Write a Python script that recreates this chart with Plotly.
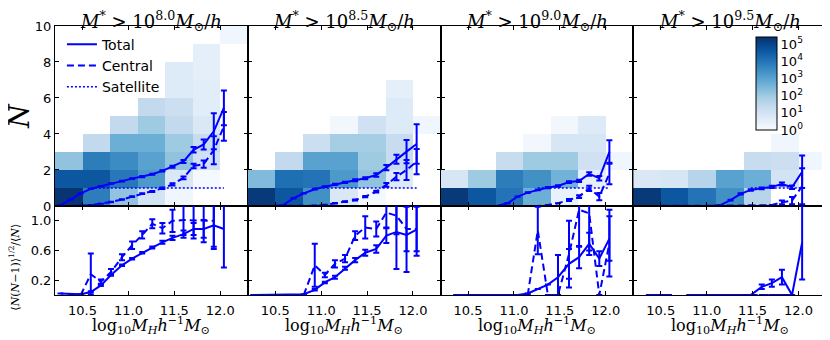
import plotly.graph_objects as go
from plotly.subplots import make_subplots

# stellar mass thresholds (log10 M*), one column each
thresholds = ['8.0', '8.5', '9.0', '9.5']

# halo mass bin centres for the HOD curves
log_mh = [10.26, 10.37, 10.48, 10.59, 10.70, 10.81, 10.93, 11.04, 11.15,
          11.26, 11.37, 11.48, 11.60, 11.71, 11.82, 11.93, 12.04]

# 2D histogram bins (halo mass x galaxy count)
hist_x = [10.35, 10.65, 10.95, 11.25, 11.55, 11.85, 12.15]
hist_y = [0.5, 1.5, 2.5, 3.5, 4.5, 5.5, 6.5, 7.5, 8.5, 9.5]

# log10 of number of haloes per cell, rows N=0..9
hist_1 = [
    [5.3, 3.8, 2.2, 1.0, 0.2, None, None],
    [4.6, 4.6, 3.9, 3.2, 0.8, 0.1, None],
    [2.2, 3.8, 3.5, 3.0, 2.2, 1.1, None],
    [None, 1.4, 2.7, 2.7, 2.0, 1.3, None],
    [None, None, 1.4, 2.0, 1.4, 0.8, None],
    [None, None, None, 1.4, 1.2, 0.6, None],
    [None, None, None, None, 0.7, 0.6, None],
    [None, None, None, None, 0.7, 0.5, None],
    [None, None, None, None, None, 0.5, None],
    [None, None, None, None, None, None, 0.2],
]
hist_2 = [
    [5.2, 4.6, 3.4, 0.8, 0.1, None, None],
    [2.4, 4.1, 4.0, 3.2, 2.2, 0.7, None],
    [None, 1.4, 3.0, 3.0, 2.0, 1.3, None],
    [None, None, 1.2, 1.9, 1.9, 1.3, None],
    [None, None, None, 0.15, 1.1, 0.7, 0.2],
    [None, None, None, None, None, 0.7, None],
    [None, None, None, None, None, 0.5, None],
    [None] * 7, [None] * 7, [None] * 7,
]
hist_3 = [
    [5.2, 4.6, 4.0, 2.7, 0.4, None, None],
    [0.9, 2.0, 3.8, 3.4, 2.6, 0.5, None],
    [None, None, 1.3, 2.0, 2.0, 1.1, 0.2],
    [None, None, None, 0.15, 0.9, 0.9, None],
    [None, None, None, None, 0.15, 0.7, None],
    [None] * 7, [None] * 7, [None] * 7, [None] * 7, [None] * 7,
]
hist_4 = [
    [5.2, 4.6, 4.0, 3.4, 1.6, None, None],
    [0.8, 0.9, 1.6, 3.0, 2.7, 1.0, None],
    [None, None, None, None, 1.3, 1.2, 0.2],
    [None, None, None, None, None, 0.2, None],
    [None] * 7, [None] * 7, [None] * 7, [None] * 7, [None] * 7, [None] * 7,
]

# mean occupation <N>
n_tot_1 = [0.05, 0.35, 0.70, 0.95, 1.10, 1.25, 1.38, 1.52, 1.63, 1.76, 1.95, 2.18, 2.47, 3.12, 3.42, 4.15, 5.45]
e_tot_1 = [0.01, 0.01, 0.01, 0.01, 0.01, 0.01, 0.02, 0.02, 0.03, 0.03, 0.04, 0.06, 0.08, 0.15, 0.28, 1.0, 0.97]
n_cen_1 = [0.0, 0.0, 0.02, 0.05, 0.12, 0.22, 0.36, 0.52, 0.68, 0.80, 0.98, 1.20, 1.56, 2.22, 2.33, 3.10, 4.42]
e_cen_1 = [0, 0, 0, 0, 0, 0.01, 0.01, 0.02, 0.02, 0.03, 0.04, 0.06, 0.08, 0.12, 0.2, 0.78, 0.8]
n_sat_1 = [None, None, None, 1.0, 1.0, 1.0, 1.0, 1.0, 1.0, 1.0, 1.0, 1.0, 1.0, 1.0, 1.0, 1.0, 1.0]

n_tot_2 = [0.0, 0.0, 0.0, 0.06, 0.43, 0.70, 0.93, 1.07, 1.20, 1.31, 1.43, 1.54, 1.72, 2.13, 2.59, 3.02, 3.44]
e_tot_2 = [0, 0, 0, 0, 0.01, 0.01, 0.02, 0.02, 0.03, 0.04, 0.05, 0.06, 0.1, 0.15, 0.25, 0.65, 1.1]
n_cen_2 = [0.0, 0.0, 0.0, 0.0, 0.0, 0.0, 0.02, 0.06, 0.15, 0.24, 0.33, 0.52, 0.80, 1.17, 1.63, 2.00, 2.46]
e_cen_2 = [0, 0, 0, 0, 0, 0, 0, 0.01, 0.01, 0.02, 0.03, 0.04, 0.05, 0.1, 0.2, 0.56, 0.7]
n_sat_2 = [None, None, None, None, None, None, 1.0, 1.0, 1.0, 1.0, 1.0, 1.0, 1.0, 1.0, 1.0, 1.0, 1.0]

n_tot_3 = [0.0, 0.0, 0.0, 0.0, 0.0, 0.0, 0.15, 0.52, 0.74, 0.89, 1.02, 1.11, 1.33, 1.39, 1.78, 1.54, 3.0]
e_tot_3 = [0, 0, 0, 0, 0, 0, 0.01, 0.01, 0.02, 0.02, 0.03, 0.04, 0.05, 0.06, 0.1, 0.12, 0.65]
n_cen_3 = [0.0, 0.0, 0.0, 0.0, 0.0, 0.0, 0.0, 0.0, 0.0, 0.0, 0.05, 0.15, 0.33, 0.52, 0.98, 0.52, 1.8]
e_cen_3 = [0, 0, 0, 0, 0, 0, 0, 0, 0, 0, 0, 0, 0.05, 0.08, 0.15, 0.2, 0.6]
n_sat_3 = [None, None, None, None, None, None, None, None, None, 1.0, 1.0, 1.0, 1.0, 1.0, 1.0, 1.0, 1.0]

n_tot_4 = [0.0, 0.0, 0.0, 0.0, 0.0, 0.0, 0.0, 0.0, 0.05, 0.33, 0.67, 0.89, 0.98, 1.06, 1.22, 1.04, 1.9]
e_tot_4 = [0, 0, 0, 0, 0, 0, 0, 0, 0.01, 0.02, 0.03, 0.04, 0.05, 0.06, 0.08, 0.1, 0.9]
n_cen_4 = [0.0, 0.0, 0.0, 0.0, 0.0, 0.0, 0.0, 0.0, 0.0, 0.0, 0.0, 0.02, 0.03, 0.05, 0.2, 0.3, 1.1]
e_cen_4 = [0, 0, 0, 0, 0, 0, 0, 0, 0, 0, 0, 0, 0, 0, 0.1, 0.2, 1.0]
n_sat_4 = [None, None, None, None, None, None, None, None, None, None, None, 1.0, 1.0, 1.0, 1.0, 1.0, 1.0]

# <N(N-1)>^(1/2) / <N>
r_tot_1 = [0.02, 0.01, 0.01, 0.04, 0.13, 0.27, 0.40, 0.49, 0.57, 0.64, 0.71, 0.77, 0.82, 0.89, 0.89, 0.94, 0.89]
re_tot_1 = [0, 0, 0, 0.01, 0.01, 0.01, 0.01, 0.01, 0.01, 0.015, 0.02, 0.03, 0.05, 0.08, 0.12, 0.32, 0.52]
r_cen_1 = [None, None, 0.0, 0.28, 0.18, 0.31, 0.51, 0.67, 0.81, 0.96, 0.90, 1.00, 1.01, 1.01, 1.01, 1.00, None]
re_cen_1 = [0, 0, 0, 0.28, 0.03, 0.04, 0.04, 0.05, 0.05, 0.06, 0.07, 0.15, 0.2, 0.25, 0.3, 0.35, 0]

r_tot_2 = [0.0, 0.0, 0.0, 0.0, 0.0, 0.01, 0.07, 0.17, 0.24, 0.36, 0.47, 0.57, 0.62, 0.80, 0.85, 0.81, 0.88]
re_tot_2 = [0, 0, 0, 0, 0, 0, 0.01, 0.01, 0.02, 0.02, 0.03, 0.04, 0.05, 0.1, 0.5, 0.5, 0.35]
r_cen_2 = [None, None, None, None, None, 0.0, 0.40, 0.27, 0.42, 0.49, 0.80, 0.91, 0.89, 1.11, 1.07, 0.89, 0.89]
re_cen_2 = [0, 0, 0, 0, 0, 0, 0.29, 0.03, 0.05, 0.05, 0.06, 0.15, 0.1, 0.2, 0.25, 0.3, 0.3]

r_tot_3 = [None, 0.0, 0.0, 0.0, 0.0, 0.0, 0.0, 0.0, 0.02, 0.08, 0.14, 0.24, 0.42, 0.51, 0.69, 0.49, 0.76]
re_tot_3 = [0, 0, 0, 0, 0, 0, 0, 0, 0, 0, 0, 0.3, 0.2, 0.15, 0.15, 0.1, 0.3]
r_cen_3 = [None, None, None, None, None, None, None, None, 0.0, 0.87, 0.0, 0.0, 0.55, 1.15, 1.1, 0.0, 0.7]
re_cen_3 = [0, 0, 0, 0, 0, 0, 0, 0, 0, 0.32, 0, 0, 0.45, 0.5, 0.5, 0, 0.45]

r_tot_4 = [None, 0.0, 0.0, 0.0, None, 0.0, 0.0, 0.0, 0.0, 0.0, 0.0, 0.0, 0.11, 0.16, 0.24, 0.0, 0.71]
re_tot_4 = [0, 0, 0, 0, 0, 0, 0, 0, 0, 0, 0, 0, 0.03, 0.05, 0.1, 0, 0.5]
r_cen_4 = [None, None, None, None, None, None, None, None, None, None, None, 0.0, 0.0, 0.0, 0.0, 0.0, None]
re_cen_4 = [0] * 17

hists = [hist_1, hist_2, hist_3, hist_4]
tops = [(n_tot_1, e_tot_1, n_cen_1, e_cen_1, n_sat_1),
        (n_tot_2, e_tot_2, n_cen_2, e_cen_2, n_sat_2),
        (n_tot_3, e_tot_3, n_cen_3, e_cen_3, n_sat_3),
        (n_tot_4, e_tot_4, n_cen_4, e_cen_4, n_sat_4)]
bottoms = [(r_tot_1, re_tot_1, r_cen_1, re_cen_1),
           (r_tot_2, re_tot_2, r_cen_2, re_cen_2),
           (r_tot_3, re_tot_3, r_cen_3, re_cen_3),
           (r_tot_4, re_tot_4, r_cen_4, re_cen_4)]

blues = ['#f7fbff', '#deebf7', '#c6dbef', '#9ecae1', '#6baed6',
         '#4292c6', '#2171b5', '#08519c', '#08306b']
cscale = [[i / 8, c] for i, c in enumerate(blues)]
BLUE = '#0000ff'
SERIF = 'DejaVu Serif'
SANS = 'DejaVu Sans'

fig = make_subplots(rows=2, cols=4, horizontal_spacing=0, vertical_spacing=0,
                    row_heights=[0.669, 0.331])


def err(a):
    return dict(type='data', array=a, color=BLUE, thickness=2, width=3)


for i in range(4):
    col = i + 1
    first = (i == 0)
    fig.add_trace(go.Heatmap(
        x=hist_x, y=hist_y, z=hists[i], colorscale=cscale, zmin=0, zmax=5.4,
        showscale=(i == 3), hoverinfo='skip',
        colorbar=dict(x=0.909, xanchor='left', y=0.786, yanchor='middle',
                      lenmode='pixels', len=93, thickness=21, xpad=0, ypad=0,
                      outlinewidth=1, outlinecolor='black',
                      tickvals=[0, 1, 2, 3, 4, 5],
                      ticktext=['10<sup>%d</sup>' % k for k in range(6)],
                      ticks='', tickfont=dict(family=SANS, size=13, color='black'))
    ), row=1, col=col)

    tot, etot, cen, ecen, sat = tops[i]
    fig.add_trace(go.Scatter(x=log_mh, y=tot, mode='lines', name='Total',
                             line=dict(color=BLUE, width=2), error_y=err(etot),
                             showlegend=first, legendgroup='tot'), row=1, col=col)
    fig.add_trace(go.Scatter(x=log_mh, y=cen, mode='lines', name='Central',
                             line=dict(color=BLUE, width=2, dash='7px,4px'),
                             error_y=err(ecen),
                             showlegend=first, legendgroup='cen'), row=1, col=col)
    fig.add_trace(go.Scatter(x=log_mh, y=sat, mode='lines', name='Satellite',
                             line=dict(color=BLUE, width=1.5, dash='2px,2px'),
                             showlegend=first, legendgroup='sat'), row=1, col=col)

    rt, ret, rc, rec = bottoms[i]
    fig.add_trace(go.Scatter(x=log_mh, y=rt, mode='lines', showlegend=False,
                             line=dict(color=BLUE, width=2), error_y=err(ret)),
                  row=2, col=col)
    fig.add_trace(go.Scatter(x=log_mh, y=rc, mode='lines', showlegend=False,
                             line=dict(color=BLUE, width=2, dash='7px,4px'),
                             error_y=err(rec)),
                  row=2, col=col)

    axis_common = dict(showline=True, linecolor='black', linewidth=1, mirror='ticks',
                       ticks='inside', ticklen=4, tickcolor='black', showgrid=False,
                       zeroline=False, automargin=False,
                       tickfont=dict(family=SANS, size=13, color='black'))
    fig.update_xaxes(range=[10.2, 12.3], tickvals=[10.5, 11.0, 11.5, 12.0],
                     showticklabels=False, row=1, col=col, **axis_common)
    fig.update_xaxes(range=[10.2, 12.3], tickvals=[10.5, 11.0, 11.5, 12.0],
                     tickformat='.1f', ticklabelstandoff=3, row=2, col=col, **axis_common)
    fig.update_yaxes(range=[0, 10], tickvals=[0, 2, 4, 6, 8, 10],
                     showticklabels=first, row=1, col=col, **axis_common)
    fig.update_yaxes(range=[0, 1.2], tickvals=[0.2, 0.6, 1.0], tickformat='.1f',
                     showticklabels=first, row=2, col=col, **axis_common)

    fig.add_annotation(
        text=('<i>M</i><sup>*</sup>&nbsp;&gt;&nbsp;10<sup>%s</sup><i>M</i>'
              '<sub>⊙</sub>/<i>h</i>') % thresholds[i],
        xref='paper', yref='paper', x=(i + 0.5) / 4, y=1, xanchor='center',
        yanchor='bottom', yshift=-10, showarrow=False,
        font=dict(family=SERIF, size=18, color='black'))
    fig.add_annotation(
        text='log<sub>10</sub><i>M<sub>H</sub>h</i><sup>−1</sup><i>M</i><sub>⊙</sub>',
        xref='paper', yref='paper', x=(i + 0.5) / 4, y=-0.115, xanchor='center',
        yanchor='middle', showarrow=False,
        font=dict(family=SERIF, size=16, color='black'))

fig.add_annotation(text='<i>N</i>', textangle=-90, xref='paper', yref='paper',
                   x=-0.047, y=0.665, xanchor='center', yanchor='middle', showarrow=False,
                   font=dict(family=SERIF, size=27, color='black'))
fig.add_annotation(text='⟨<i>N</i>(<i>N</i>−1)⟩<sup>1/2</sup>/⟨<i>N</i>⟩', textangle=-90,
                   xref='paper', yref='paper', x=-0.052, y=0.105, xanchor='center',
                   yanchor='middle', showarrow=False,
                   font=dict(family=SERIF, size=11, color='black'))

# the page body adds an 8px offset, so the figure is 8px smaller on both axes
fig.update_layout(
    width=822, height=332,
    margin=dict(l=47, r=4, t=18, b=45, autoexpand=False),
    plot_bgcolor='white', paper_bgcolor='white',
    legend=dict(x=0.009, y=0.99, xanchor='left', yanchor='top',
                bgcolor='rgba(0,0,0,0)', font=dict(family=SANS, size=14, color='black'),
                tracegroupgap=0),
)

fig.write_html("out.html")
